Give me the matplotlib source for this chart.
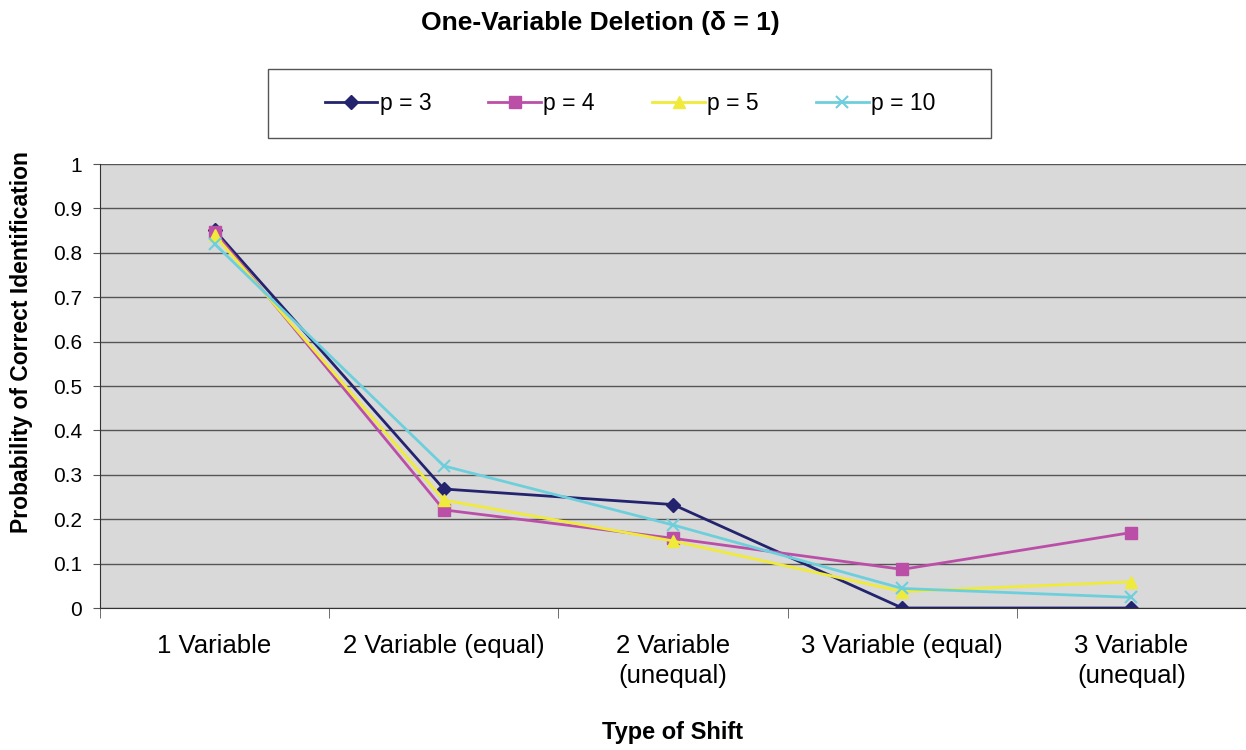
import matplotlib
matplotlib.use("Agg")
import matplotlib.pyplot as plt
from matplotlib.patches import Rectangle
import numpy as np

# Data
categories = ["1 Variable", "2 Variable (equal)", "2 Variable\n(unequal)",
              "3 Variable (equal)", "3 Variable\n(unequal)"]
p3 = [0.851, 0.268, 0.233, 0.0, 0.0]
p4 = [0.847, 0.221, 0.157, 0.087, 0.170]
p5 = [0.840, 0.243, 0.151, 0.037, 0.059]
p10 = [0.820, 0.320, 0.187, 0.044, 0.024]
yticks = [0, 0.1, 0.2, 0.3, 0.4, 0.5, 0.6, 0.7, 0.8, 0.9, 1]

plt.rcParams['font.family'] = ['Liberation Sans', 'DejaVu Sans']

W, H = 1246, 750
fig = plt.figure(figsize=(W / 100, H / 100), dpi=100)
ax = fig.add_axes([100 / W, 1 - 608 / H, 1146 / W, 444 / H])
ax.set_facecolor('#d9d9d9')

x = np.arange(len(categories))
ax.plot(x, p3, color='#23236e', marker='D', markersize=7, linewidth=2, label='p = 3')
ax.plot(x, p4, color='#bb4fa8', marker='s', markersize=8, linewidth=2, label='p = 4')
ax.plot(x, p5, color='#f0ea3a', marker='^', markersize=8, linewidth=2, label='p = 5')
ax.plot(x, p10, color='#6ecfdc', marker='x', markersize=8, markeredgewidth=1.5,
        linewidth=2, label='p = 10')

ax.set_xlim(-0.5, len(categories) - 0.5)
ax.set_ylim(0, 1)
ax.set_yticks(yticks)
ax.set_yticklabels([f"{t:g}" for t in yticks], fontsize=15)
ax.yaxis.grid(True, color='#555555', linewidth=1)
ax.set_axisbelow(True)

ax.set_xticks(x)
ax.set_xticklabels(categories, fontsize=18.5, linespacing=1.3)
ax.tick_params(axis='x', which='major', length=0, pad=19)
ax.set_xticks(np.arange(-0.5, len(categories)), minor=True)
ax.tick_params(axis='x', which='minor', length=7, color='#555555')
ax.tick_params(axis='y', length=5, color='#555555', pad=8)

for s in ['top', 'right']:
    ax.spines[s].set_visible(False)
ax.spines['left'].set_color('#333333')
ax.spines['bottom'].set_color('#333333')

fig.text(22 / W, 1 - 342 / H, 'Probability of Correct Identification',
         rotation=90, ha='center', va='center', fontsize=16.5, fontweight='bold')
fig.text(673 / W, 1 - 733 / H, 'Type of Shift', ha='center', va='center',
         fontsize=17, fontweight='bold')
fig.text(600 / W, 1 - 23 / H, 'One-Variable Deletion (\u03b4 = 1)', ha='center',
         va='center', fontsize=19, fontweight='bold')

# legend box drawn separately so its padding matches
fig.patches.append(Rectangle((268 / W, 1 - 138 / H), 723 / W, 69 / H,
                             transform=fig.transFigure, facecolor='white',
                             edgecolor='#555555', linewidth=1, zorder=0))
leg = fig.legend(loc='center', bbox_to_anchor=(630 / W, 1 - 103.5 / H),
                 ncol=4, fontsize=16.5, frameon=False,
                 columnspacing=2.5, handlelength=2.3,
                 handletextpad=0.1, borderaxespad=0)

fig.savefig('out.png', dpi=100)
